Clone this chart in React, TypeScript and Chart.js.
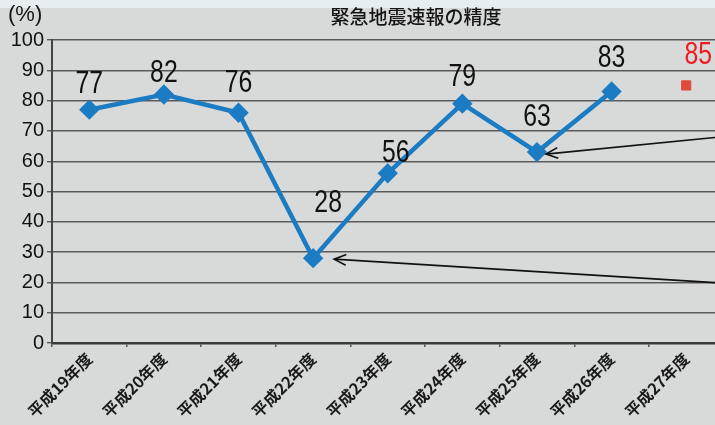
import React, { useEffect, useRef } from "react";
import { Chart, registerables } from "chart.js";

Chart.register(...registerables);

const categories = [
  "平成19年度",
  "平成20年度",
  "平成21年度",
  "平成22年度",
  "平成23年度",
  "平成24年度",
  "平成25年度",
  "平成26年度",
  "平成27年度",
];
const accuracy: (number | null)[] = [77, 82, 76, 28, 56, 79, 63, 83, null];
const targetValue: (number | null)[] = [null, null, null, null, null, null, null, null, 85];
const yMin = 0;
const yMax = 100;
const yStep = 10;
const title = "緊急地震速報の精度";
const unitLabel = "(%)";

// label offsets (style): [dx, dy] from the point
const accuracyLabelOffsets: [number, number][] = [
  [0, -25], [0, -21], [0, -29], [15, -55], [8, -20], [0, -26], [0, -35], [0, -33], [0, 0],
];
const targetLabelOffsets: [number, number][] = [
  [0, 0], [0, 0], [0, 0], [0, 0], [0, 0], [0, 0], [0, 0], [0, 0], [12, -30],
];
// arrows: index of target point, value at which they leave the right edge
const arrows = [
  { index: 3, startValue: 19.5, tipDx: 21, tipDy: 1 },
  { index: 6, startValue: 68.5, tipDx: 9, tipDy: 2 },
];

const BLUE = "#1b7bc3";
const RED_MARK = "#e04a3c";
const RED_TEXT = "#ec1b24";

const bgPlugin = {
  id: "bgPlugin",
  beforeDraw(chart: any) {
    const { ctx, width, height } = chart;
    ctx.save();
    ctx.fillStyle = "#d8d9d9";
    ctx.fillRect(0, 0, width, height);
    ctx.fillStyle = "#e6eef2";
    ctx.fillRect(0, 0, width, 8);
    ctx.restore();
  },
  afterDraw(chart: any) {
    const { ctx } = chart;
    ctx.save();
    ctx.fillStyle = "#151515";
    ctx.textBaseline = "middle";
    ctx.textAlign = "center";
    ctx.font = "500 19px 'Noto Sans CJK JP'";
    ctx.fillText(title, 416, 17);
    ctx.textAlign = "left";
    ctx.font = "22px 'Liberation Sans'";
    ctx.fillText(unitLabel, 8, 15);
    ctx.restore();
  },
};

const labelPlugin = {
  id: "labelPlugin",
  afterDatasetsDraw(chart: any) {
    const { ctx } = chart;
    ctx.save();
    ctx.font = "31px 'Liberation Sans'";
    ctx.textAlign = "center";
    ctx.textBaseline = "middle";
    chart.data.datasets.forEach((ds: any, di: number) => {
      const meta = chart.getDatasetMeta(di);
      const offsets = ds.labelOffsets as [number, number][];
      ctx.fillStyle = ds.labelColor;
      meta.data.forEach((pt: any, i: number) => {
        const v = ds.data[i];
        if (v === null || v === undefined) return;
        const [dx, dy] = offsets[i];
        ctx.save();
        ctx.translate(pt.x + dx, pt.y + dy);
        ctx.scale(0.8, 1);
        ctx.fillText(String(v), 0, 0);
        ctx.restore();
      });
    });
    // arrows
    const meta0 = chart.getDatasetMeta(0);
    const yScale = chart.scales.y;
    ctx.strokeStyle = "#111";
    ctx.lineWidth = 1.6;
    arrows.forEach((a) => {
      const pt = meta0.data[a.index];
      const tx = pt.x + a.tipDx;
      const ty = pt.y + a.tipDy;
      const sx = chart.width;
      const sy = yScale.getPixelForValue(a.startValue);
      ctx.beginPath();
      ctx.moveTo(sx, sy);
      ctx.lineTo(tx, ty);
      ctx.stroke();
      const ang = Math.atan2(sy - ty, sx - tx);
      const len = 13;
      const spread = 0.42;
      ctx.beginPath();
      ctx.moveTo(tx + len * Math.cos(ang + spread), ty + len * Math.sin(ang + spread));
      ctx.lineTo(tx, ty);
      ctx.lineTo(tx + len * Math.cos(ang - spread), ty + len * Math.sin(ang - spread));
      ctx.stroke();
    });
    ctx.restore();
  },
};

export default function App() {
  const canvasRef = useRef<HTMLCanvasElement | null>(null);

  useEffect(() => {
    document.body.style.overflow = "hidden";
    const canvas = canvasRef.current;
    if (!canvas) return;
    const chart = new Chart(canvas, {
      type: "line",
      data: {
        labels: categories,
        datasets: [
          {
            label: "精度",
            data: accuracy,
            borderColor: BLUE,
            backgroundColor: BLUE,
            borderWidth: 4.5,
            pointStyle: "rectRot",
            pointRadius: 7,
            pointBackgroundColor: BLUE,
            pointBorderColor: BLUE,
            spanGaps: false,
            tension: 0,
            labelOffsets: accuracyLabelOffsets,
            labelColor: "#111",
          } as any,
          {
            label: "目標",
            data: targetValue,
            showLine: false,
            pointStyle: "rect",
            pointRadius: 6.5,
            pointBackgroundColor: RED_MARK,
            pointBorderColor: RED_MARK,
            borderColor: RED_MARK,
            backgroundColor: RED_MARK,
            labelOffsets: targetLabelOffsets,
            labelColor: RED_TEXT,
          } as any,
        ],
      },
      options: {
        animation: false,
        responsive: true,
        maintainAspectRatio: false,
        layout: { padding: { top: 40, left: 0, right: 0, bottom: 0 } },
        plugins: {
          legend: { display: false },
          title: { display: false },
          tooltip: { enabled: false },
        },
        scales: {
          x: {
            offset: true,
            afterFit(scale: any) {
              scale.height = 82;
            },
            grid: {
              offset: true,
              drawOnChartArea: false,
              drawTicks: true,
              tickLength: 4,
              color: "#555",
              lineWidth: 1.5,
            },
            border: { display: true, color: "#3a3a3a", width: 2.5 },
            ticks: {
              minRotation: 45,
              maxRotation: 45,
              padding: 2,
              color: "#1a1a1a",
              font: { family: "'Noto Sans CJK JP'", size: 16, weight: "bold" },
            },
          },
          y: {
            min: yMin,
            max: yMax,
            afterFit(scale: any) {
              scale.width = 52;
            },
            ticks: {
              stepSize: yStep,
              padding: 3,
              color: "#111",
              font: { family: "'Liberation Sans'", size: 20 },
            },
            grid: {
              color: "#5a5a5a",
              lineWidth: 1.4,
              tickLength: 5,
            },
            border: { display: true, color: "#444", width: 2 },
          },
        },
      },
      plugins: [bgPlugin, labelPlugin],
    });
    return () => chart.destroy();
  }, []);

  return (
    <div style={{ position: "fixed", left: 0, top: 0, width: 715, height: 425, overflow: "hidden" }}>
      <div style={{ position: "relative", width: 735, height: 425 }}>
        <canvas ref={canvasRef} />
      </div>
    </div>
  );
}
